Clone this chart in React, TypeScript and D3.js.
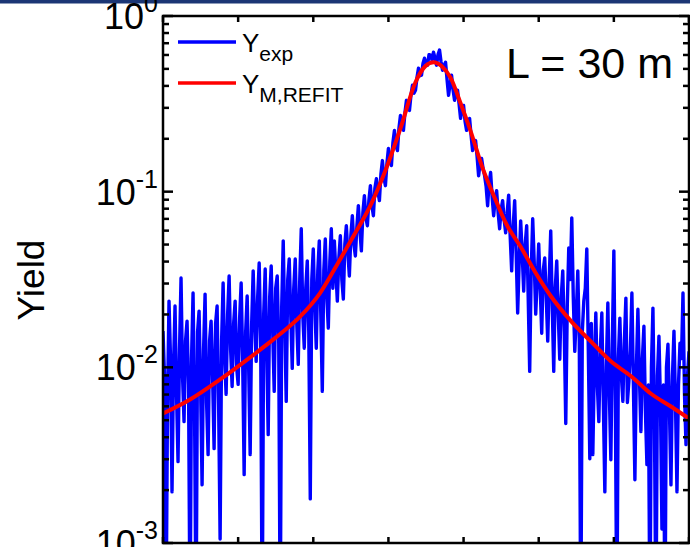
import React from "react";
import * as d3 from "d3";

// ---- data ----
// log10 of measured yield Y_exp at channels 0, 4, 8, ... 700
const expLog10At4: number[] = [
  -1.794, -3.5, -1.623, -2.709, -1.651, -2.537, -1.491, -2.309, -1.737, -3.5,
  -1.577, -3.5, -1.68, -2.669, -1.583, -2.497, -1.737, -2.463, -1.651, -2.977,
  -1.52, -2.154, -1.48, -2.109, -1.623, -2.097, -1.52, -2.611, -1.594, -2.497,
  -1.451, -1.966, -1.406, -3.5, -1.44, -2.383, -1.423, -2.137, -1.48, -3.5,
  -1.28, -2.194, -1.383, -2.006, -1.383, -1.983, -1.211, -1.891, -1.394, -2.749,
  -1.326, -1.891, -1.28, -2.137, -1.269, -1.777, -1.211,
  -1.28, -1.623, -1.251, -1.611, -1.194, -1.48, -1.137, -1.366, -1.08, -1.337,
  -1.023, -1.194, -0.966, -1.137, -0.926, -1.051, -0.823, -0.966, -0.754, -0.851,
  -0.651, -0.766, -0.566, -0.651, -0.48, -0.537, -0.394, -0.423, -0.297, -0.337,
  -0.24, -0.28, -0.223,
  -0.206, -0.28, -0.194, -0.309, -0.263, -0.451, -0.337, -0.48, -0.423, -0.583,
  -0.509, -0.651, -0.583, -0.766, -0.709, -0.909, -0.811, -0.909, -1.08, -0.891,
  -1.137, -0.994, -1.211, -1.051, -1.234,
  -1.02, -1.451, -1.051, -1.691, -1.166, -1.566, -1.194, -2.023, -1.154, -1.697,
  -1.297, -1.806, -1.377, -1.851, -1.223, -2.023, -1.394, -1.954, -1.451, -2.32,
  -1.32, -1.149, -1.909, -1.451, -3.5, -1.623, -1.326, -2.52,
  -2.497, -1.691, -2.309, -1.691, -2.709, -1.634, -2.526, -1.337, -3.5, -1.72,
  -2.194, -1.606, -2.08, -1.577, -2.64, -1.669, -2.366, -1.766, -2.554, -3.5,
  -1.663, -3.5, -1.823, -2.92, -3.5, -1.869, -2.669, -1.794, -2.709, -1.863,
  -1.577, -2.44, -1.909,
];
// log10 of measured yield Y_exp at channels 2, 6, 10, ... 698
const expLog10Mid: number[] = [
  -2.05, -2.2, -1.95, -2.0, -2.15, -1.9, -2.05, -1.85, -2.1, -1.95,
  -2.25, -1.8, -2.1, -1.9, -2.2, -1.85, -2.05, -1.75, -2.2, -1.85,
  -1.95, -1.7, -1.9, -1.75, -2.0, -1.72, -1.95, -1.8, -2.0, -1.75,
  -1.75, -1.6, -1.85, -1.7, -1.9, -1.6, -1.8, -1.55, -1.85, -1.65,
  -1.75, -1.5, -1.7, -1.55, -1.75, -1.5, -1.7, -1.55, -1.8, -1.5,
  -1.65, -1.45, -1.7, -1.45, -1.6, -1.4, -1.55,
  -1.45, -1.38, -1.5, -1.3, -1.35, -1.25, -1.3, -1.2, -1.22, -1.12,
  -1.15, -1.05, -1.08, -0.98, -1.0, -0.9, -0.92, -0.84, -0.83, -0.72,
  -0.74, -0.64, -0.63, -0.55, -0.53, -0.45, -0.44, -0.35, -0.34, -0.27,
  -0.27, -0.22, -0.25,
  -0.24, -0.22, -0.26, -0.28, -0.36, -0.39, -0.42, -0.44, -0.5, -0.53,
  -0.6, -0.6, -0.68, -0.72, -0.8, -0.84, -0.87, -0.97, -0.95, -1.03,
  -1.05, -1.12, -1.1, -1.16, -1.12,
  -1.25, -1.2, -1.35, -1.4, -1.35, -1.3, -1.6, -1.45, -1.4, -1.5,
  -1.55, -1.45, -1.6, -1.5, -1.65, -1.55, -1.7, -1.6, -1.8, -1.65,
  -1.5, -1.6, -1.7, -1.85, -1.8, -1.55, -1.9, -1.75,
  -2.0, -2.1, -1.9, -2.2, -2.0, -2.15, -1.85, -2.2, -1.95, -2.05,
  -1.85, -2.2, -1.9, -2.1, -2.0, -2.05, -1.95, -2.25, -2.1, -2.0,
  -2.3, -2.05, -2.2, -2.1, -2.0, -2.25, -2.05, -2.2, -2.1, -1.95,
  -2.15, -2.05,
];
// refit model Y_M,REFIT
const fitX: number[] = [0, 36, 76, 116, 149, 183, 209, 236, 256, 276, 296, 316, 336, 349, 360, 371, 383, 396, 409, 425, 443, 456, 476, 496, 516, 543, 569, 596, 623, 649, 676, 700];
const fitLog10: number[] = [-2.263, -2.183, -2.069, -1.943, -1.834, -1.709, -1.577, -1.383, -1.234, -1.08, -0.88, -0.64, -0.377, -0.286, -0.263, -0.286, -0.354, -0.497, -0.651, -0.862, -1.051, -1.177, -1.314, -1.463, -1.594, -1.737, -1.851, -1.966, -2.051, -2.149, -2.223, -2.291];

const xTicks: number[] = [0, 100, 200, 300, 400, 500, 600, 700];
const yDecades: number[] = [0, -1, -2, -3];
const legendItems = [
  { main: "Y", sub: "exp", color: "#0000ff" },
  { main: "Y", sub: "M,REFIT", color: "#ff0000" },
];
const annotation = "L = 30 m";
const yTitle = "Yield";

const W = 690;
const H = 547;
const M = { left: 163, right: 689, top: 16, bottom: 543 };
const FONT = "'Liberation Sans', Arial, Helvetica, sans-serif";

export default function App() {
  const x = d3.scaleLinear().domain([0, 700]).range([M.left, M.right]);
  const y = d3.scaleLog().domain([1e-3, 1]).range([M.bottom, M.top]);

  const expData: { x: number; y: number }[] = [];
  expLog10At4.forEach((v, i) => {
    expData.push({ x: i * 4, y: Math.pow(10, v) });
    if (i < expLog10Mid.length) expData.push({ x: i * 4 + 2, y: Math.pow(10, expLog10Mid[i]) });
  });
  const fitData = fitX.map((v, i) => ({ x: v, y: Math.pow(10, fitLog10[i]) }));

  const lineExp = d3
    .line<{ x: number; y: number }>()
    .x((d) => x(d.x))
    .y((d) => y(d.y));
  const lineFit = d3
    .line<{ x: number; y: number }>()
    .x((d) => x(d.x))
    .y((d) => y(d.y))
    .curve(d3.curveMonotoneX);

  const minor: number[] = [];
  for (let e = -3; e < 0; e++) {
    for (let k = 2; k <= 9; k++) minor.push(k * Math.pow(10, e));
  }

  return (
    <svg
      width={W}
      height={H}
      style={{ position: "fixed", left: 0, top: 0, background: "#fff" }}
      fontFamily={FONT}
    >
      <rect x={0} y={0} width={W} height={H} fill="#fff" />
      <rect x={0} y={0} width={W} height={3.5} fill="#1b3675" />
      <defs>
        <clipPath id="plot">
          <rect x={M.left} y={M.top} width={M.right - M.left} height={M.bottom - M.top} />
        </clipPath>
      </defs>

      <g clipPath="url(#plot)">
        <path
          d={lineExp(expData) || ""}
          fill="none"
          stroke="#0000ff"
          strokeWidth={3.4}
          strokeLinejoin="round"
        />
        <path d={lineFit(fitData) || ""} fill="none" stroke="#ff0000" strokeWidth={4} />
      </g>

      {/* frame */}
      <rect
        x={M.left}
        y={M.top}
        width={M.right - M.left}
        height={M.bottom - M.top}
        fill="none"
        stroke="#000"
        strokeWidth={2.5}
      />

      {/* x ticks (top and bottom, inward) */}
      {xTicks.map((t) => (
        <g key={"xt" + t}>
          <line x1={x(t)} x2={x(t)} y1={M.bottom} y2={M.bottom - 6} stroke="#000" strokeWidth={2.5} />
          <line x1={x(t)} x2={x(t)} y1={M.top} y2={M.top + 6} stroke="#000" strokeWidth={2.5} />
        </g>
      ))}

      {/* y major ticks */}
      {yDecades.map((e) => {
        const yy = y(Math.pow(10, e));
        return (
          <g key={"yt" + e}>
            <line x1={M.left} x2={M.left + 10} y1={yy} y2={yy} stroke="#000" strokeWidth={2.5} />
            <line x1={M.right} x2={M.right - 10} y1={yy} y2={yy} stroke="#000" strokeWidth={2.5} />
            <text x={158} y={yy + 13} textAnchor="end" fontSize={36} fill="#000">
              10
              <tspan dy={-17} fontSize={25}>
                {e === 0 ? "0" : "-" + Math.abs(e)}
              </tspan>
            </text>
          </g>
        );
      })}

      {/* y minor ticks */}
      {minor.map((v, i) => (
        <g key={"ym" + i}>
          <line x1={M.left} x2={M.left + 6} y1={y(v)} y2={y(v)} stroke="#000" strokeWidth={2.5} />
          <line x1={M.right} x2={M.right - 6} y1={y(v)} y2={y(v)} stroke="#000" strokeWidth={2.5} />
        </g>
      ))}

      {/* y title */}
      <text
        transform={`translate(44, 280) rotate(-90)`}
        textAnchor="middle"
        fontSize={37}
        fill="#000"
      >
        {yTitle}
      </text>

      {/* legend */}
      {legendItems.map((it, i) => {
        const ly = 42 + i * 41;
        return (
          <g key={"lg" + i}>
            <line x1={178} x2={236} y1={ly} y2={ly} stroke={it.color} strokeWidth={3.5} />
            <text x={242} y={ly + 10} fontSize={26} fill="#000">
              {it.main}
              <tspan dy={9} fontSize={21}>
                {it.sub}
              </tspan>
            </text>
          </g>
        );
      })}

      {/* annotation */}
      <text x={673} y={78} textAnchor="end" fontSize={43} fill="#000">
        {annotation}
      </text>
    </svg>
  );
}
